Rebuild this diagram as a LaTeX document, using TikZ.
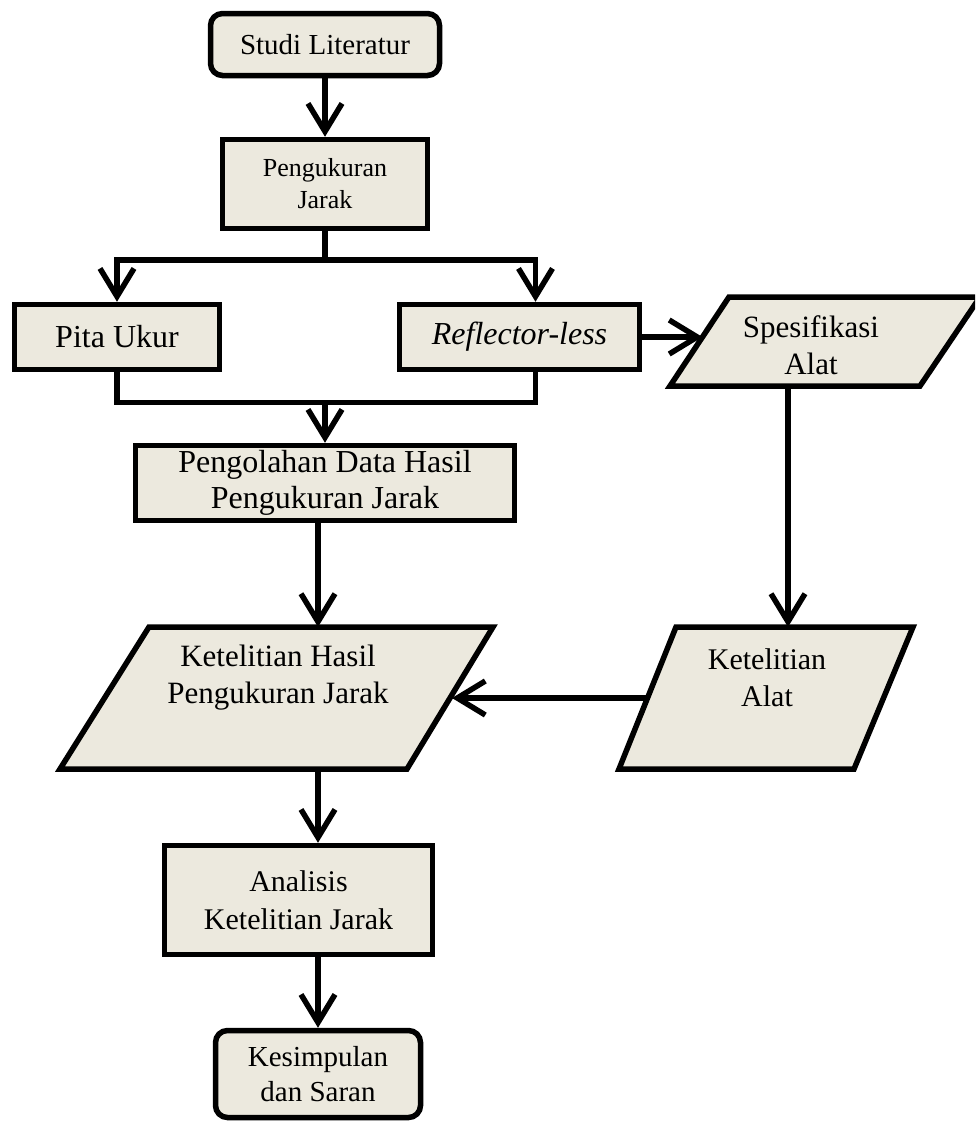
\documentclass[tikz,border=0pt]{standalone}
\usepackage{fontspec}
\setmainfont{Liberation Serif}
\usetikzlibrary{arrows.meta,calc}
\definecolor{boxfill}{RGB}{236,233,222}
\begin{document}
\begin{tikzpicture}[x=1pt,y=-1pt,
  box/.style={draw=black, fill=boxfill, line width=5.5pt, inner sep=0pt, align=center},
  rbox/.style={box, rounded corners=12pt},
  arr/.style={line width=5.5pt, -{Straight Barb[length=28pt,width=34pt]}},
  ln/.style={line width=5.5pt},
  txt/.style={align=center, inner sep=0pt},
]
\useasboundingbox (0,0) rectangle (975,1122);
\clip (0,0) rectangle (975,1122);

\coordinate (col) at (318,0);
\coordinate (colR) at (788,0);

% rectangles
\node[rbox, minimum width=229pt, minimum height=62pt, font=\fontsize{29}{34}\selectfont] (studi) at (325,44.5) {Studi Literatur};
\node[box, minimum width=205pt, minimum height=89pt, font=\fontsize{26}{32}\selectfont] (peng) at (325,184) {Pengukuran\\Jarak};
\node[box, minimum width=205pt, minimum height=65pt, font=\fontsize{32}{38}\selectfont] (pita) at (117,337) {Pita Ukur};
\node[box, minimum width=240pt, minimum height=65pt, font=\fontsize{32}{38}\selectfont\itshape] (refl) at (519.5,337) {Reflector-less};
\node[box, minimum width=379pt, minimum height=75pt, font=\fontsize{32}{36}\selectfont] (olah) at (325,483) {Pengolahan Data Hasil\\Pengukuran Jarak};
\node[box, minimum width=268pt, minimum height=109pt, font=\fontsize{30}{38}\selectfont] (anal) at (298.5,900) {Analisis\\Ketelitian Jarak};
\node[rbox, minimum width=205pt, minimum height=87pt, font=\fontsize{29}{35}\selectfont] (kes) at (318,1074) {Kesimpulan\\dan Saran};

% parallelograms
\path[box] (729,297) -- (980,297) -- (920,386) -- (670,386) -- cycle;
\path[box] (149,627) -- (493,627) -- (407,769) -- (60,769) -- cycle;
\path[box] (676,627) -- (913,627) -- (854,769) -- (619,769) -- cycle;
\coordinate (specL) at (702.5,337);
\coordinate (specB) at (788,386);
\coordinate (kaT) at (788,627);
\coordinate (kaL) at (647.5,698);
\coordinate (khR) at (452,698);
\coordinate (khT) at (318,627);
\coordinate (khB) at (318,769);

\node[txt, font=\fontsize{31}{37}\selectfont] (spect) at (811,345) {Spesifikasi\\Alat};
\node[txt, font=\fontsize{30}{37}\selectfont] (kat) at (767,678) {Ketelitian\\Alat};
\node[txt, font=\fontsize{31}{37}\selectfont] (kht) at (278,678) {Ketelitian Hasil\\Pengukuran Jarak};

\coordinate (jL) at ($(pita.north)+(0,-42)$);
\coordinate (jR) at ($(jL -| refl.north)+(16,0)$);
\coordinate (jBL) at ($(pita.south)+(0,30)$);

\draw[arr] (studi) -- (peng);
\draw[arr] (peng.south) |- (jL) -- (pita.north);
\draw[arr] (peng.south) |- (jR) -- (jR |- refl.north);
\draw[ln] (pita.south) -- (jBL) -| (jR |- refl.south);
\draw[arr] (jBL -| olah.north) -- (olah.north);
\draw[arr] (refl.east) -- (specL);
\draw[arr] (specB) -- (kaT);
\draw[arr] (olah.south -| col) -- (khT);
\draw[arr] (kaL) -- (khR);
\draw[arr] (khB) -- (anal.north -| col);
\draw[arr] (anal.south -| col) -- (kes.north);
\end{tikzpicture}
\end{document}
